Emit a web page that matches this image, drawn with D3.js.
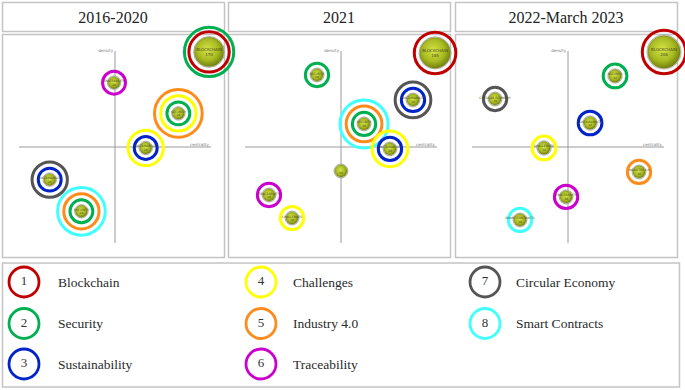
<!DOCTYPE html>
<html><head><meta charset="utf-8">
<script src="https://cdn.jsdelivr.net/npm/d3@7"></script>
<style>body{margin:0;background:#fff} svg{display:block}</style>
</head><body>
<svg id="c" width="685" height="390"></svg>
<script>
// ---- DATA ----
const categories = ["Blockchain","Security","Sustainability","Challenges","Industry 4.0","Traceability","Circular Economy","Smart Contracts"];
const categoryColors = ["#c00000","#00b050","#0024c8","#ffff00","#ff8c1a","#cc00cc","#555555","#40ffff"];
const periods = ["2016-2020","2021","2022-March 2023"];
const axisLabels = ["density","centrality"];
// each bubble: label, centrality, density, occurrences, ring categories (1-based, inner to outer)
const bubbles2016 = [
  {label:"BLOCKCHAIN", c:0.98, d:0.99, n:170, rings:[1,2]},
  {label:"TRACEABILITY", c:-0.01, d:0.67, n:28, rings:[6]},
  {label:"SECURITY", c:0.66, d:0.35, n:28, rings:[2,4,5]},
  {label:"SUSTAINABILITY", c:0.32, d:-0.01, n:28, rings:[3,4]},
  {label:"SUSTAINABILITY", c:-0.68, d:-0.34, n:28, rings:[3,7]},
  {label:"SECURITY", c:-0.35, d:-0.67, n:28, rings:[2,5,8]}
];
const bubbles2021 = [
  {label:"BLOCKCHAIN", c:0.98, d:0.98, n:185, rings:[1]},
  {label:"SECURITY", c:-0.25, d:0.75, n:30, rings:[2]},
  {label:"SUSTAINABILITY", c:0.75, d:0.49, n:30, rings:[3,7]},
  {label:"SECURITY", c:0.24, d:0.24, n:30, rings:[2,5,8]},
  {label:"SUSTAINABILITY", c:0.51, d:-0.02, n:30, rings:[3,4]},
  {label:"", c:0.0, d:-0.25, n:30, rings:[]},
  {label:"TRACEABILITY", c:-0.75, d:-0.50, n:30, rings:[6]},
  {label:"CHALLENGES", c:-0.51, d:-0.74, n:30, rings:[4]}
];
const bubbles2022 = [
  {label:"BLOCKCHAIN", c:1.0, d:0.99, n:208, rings:[1]},
  {label:"SECURITY", c:0.49, d:0.74, n:32, rings:[2]},
  {label:"CIRCULAR ECONOMY", c:-0.76, d:0.50, n:30, rings:[7]},
  {label:"SUSTAINABILITY", c:0.23, d:0.25, n:32, rings:[3]},
  {label:"CHALLENGES", c:-0.25, d:-0.01, n:32, rings:[4]},
  {label:"INDUSTRY 4.0", c:0.74, d:-0.26, n:30, rings:[5]},
  {label:"TRACEABILITY", c:-0.02, d:-0.52, n:30, rings:[6]},
  {label:"SMART CONTRACTS", c:-0.50, d:-0.76, n:30, rings:[8]}
];
const panelData = [bubbles2016, bubbles2021, bubbles2022];

// ---- DRAWING ----
const svg = d3.select("#c");
const serif = "'Liberation Serif','DejaVu Serif',serif";
const border = "#c4c4c4";

const defs = svg.append("defs");
const grad = defs.append("radialGradient").attr("id","ball").attr("cx","45%").attr("cy","42%").attr("r","60%");
grad.append("stop").attr("offset","0%").attr("stop-color","#d4e448");
grad.append("stop").attr("offset","60%").attr("stop-color","#a8ba22");
grad.append("stop").attr("offset","100%").attr("stop-color","#6e7c0c");

const rScale = d3.scaleSqrt().domain([0,178]).range([0,15]);
const panelLefts = [2, 228, 455];
const panelW = 225;

panelLefts.forEach((left, i) => {
  svg.append("rect").attr("x", left+0.5).attr("y", 2.5).attr("width", panelW-3).attr("height", 29)
    .attr("fill","#fff").attr("stroke", border).attr("stroke-width",1.5);
  svg.append("text").attr("x", left + (panelW-3)/2).attr("y", 22.5).attr("text-anchor","middle")
    .attr("font-family", serif).attr("font-size", 16).attr("fill","#222").text(periods[i]);
  svg.append("rect").attr("x", left+0.5).attr("y", 34.5).attr("width", panelW-3).attr("height", 223)
    .attr("fill","#fff").attr("stroke", border).attr("stroke-width",1.5);
});

panelLefts.forEach((left, i) => {
  const cx = left + 113;
  const x = d3.scaleLinear().domain([-1,1]).range([cx-96, cx+96]);
  const y = d3.scaleLinear().domain([-1,1]).range([243, 51]);
  const g = svg.append("g");
  g.append("line").attr("x1", x(0)).attr("x2", x(0)).attr("y1", y(-1)).attr("y2", y(1))
    .attr("stroke","#9a9a9a").attr("stroke-width",1);
  g.append("line").attr("x1", x(-1)).attr("x2", x(1)).attr("y1", y(0)).attr("y2", y(0))
    .attr("stroke","#9a9a9a").attr("stroke-width",1);
  g.append("text").attr("x", x(0)-2).attr("y", y(1)+1).attr("text-anchor","end")
    .attr("font-family","DejaVu Sans").attr("font-size",4).attr("fill","#777").text(axisLabels[0]);
  g.append("text").attr("x", x(1)-2).attr("y", y(0)-1.5).attr("text-anchor","end")
    .attr("font-family","DejaVu Sans").attr("font-size",4).attr("fill","#777").text(axisLabels[1]);

  const b = g.selectAll("g.b").data(panelData[i]).join("g").attr("class","b")
    .attr("transform", d => `translate(${x(d.c)},${y(d.d)})`);
  b.append("circle").attr("r", d => rScale(d.n)+0.8).attr("fill","#fff").attr("stroke","#9a9a9a").attr("stroke-width",0.8);
  b.append("circle").attr("r", d => rScale(d.n)).attr("fill","url(#ball)").attr("stroke","#7a8416").attr("stroke-width",0.5);
  b.selectAll("circle.ring").data(d => d.rings.map((k, j) => ({k, r: rScale(d.n) + 5.5 + (d.n > 100 ? 4.5 : 6.2)*j})))
    .join("circle").attr("class","ring").attr("r", d => d.r).attr("fill","none")
    .attr("stroke", d => categoryColors[d.k-1]).attr("stroke-width",3);
  b.append("text").attr("y", -0.5).attr("text-anchor","middle")
    .attr("font-family","DejaVu Sans").attr("font-size", d => d.n > 100 ? 4 : 3)
    .attr("fill","#4a4a20").text(d => d.label);
  b.append("text").attr("y", d => d.n > 100 ? 4 : 3).attr("text-anchor","middle")
    .attr("font-family","DejaVu Sans").attr("font-size", d => d.n > 100 ? 4 : 3)
    .attr("fill","#4a4a20").text(d => d.n);
});

// legend
svg.append("rect").attr("x", 2.5).attr("y", 263).attr("width", 677).attr("height", 124)
  .attr("fill","#fff").attr("stroke", border).attr("stroke-width",1.5);
const colCircleX = [24, 261, 485];
const colLabelX = [58, 293, 516];
const rowY = [282, 323.5, 364];
const leg = svg.selectAll("g.leg").data(categories).join("g").attr("class","leg")
  .attr("transform", (d,i) => `translate(${colCircleX[Math.floor(i/3)]},${rowY[i%3]})`);
leg.append("circle").attr("r", 15).attr("fill","#fff")
  .attr("stroke", (d,i) => categoryColors[i]).attr("stroke-width",2.8);
leg.append("text").attr("y", 3).attr("text-anchor","middle").attr("font-family", serif)
  .attr("font-size", 13).attr("fill","#333").text((d,i) => i+1);
leg.append("text").attr("x", (d,i) => colLabelX[Math.floor(i/3)] - colCircleX[Math.floor(i/3)]).attr("y", 4.5)
  .attr("font-family", serif).attr("font-size", 13.5).attr("fill","#2a2a2a").text(d => d);
</script>
</body></html>
